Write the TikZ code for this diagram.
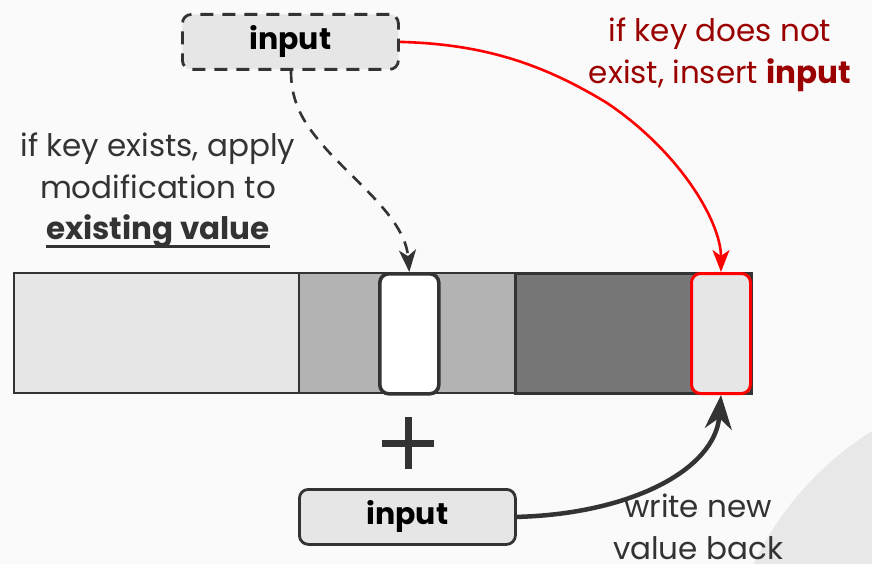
\documentclass[tikz,border=0pt]{standalone}
\usepackage{fontspec}
\setmainfont{Poppins}
\usetikzlibrary{arrows.meta,calc}
\definecolor{ink}{HTML}{333333}
\definecolor{pale}{HTML}{E6E6E6}
\definecolor{mid}{HTML}{B3B3B3}
\definecolor{deep}{HTML}{777777}
\definecolor{bgc}{HTML}{FAFAFA}
\definecolor{blob}{HTML}{E8E8E8}
\definecolor{darkred}{HTML}{9B0000}
% bold text with a heavy underline
\newlength\ulwidth
\newcommand\heavyul[1]{\settowidth\ulwidth{#1}\rlap{#1}\rule[-8pt]{\ulwidth}{2.8pt}}
\tikzset{
  seg/.style={draw=ink, line width=1.6pt, minimum height=120pt, inner sep=0pt, anchor=north west},
  cellbox/.style={rounded corners=9pt, minimum width=59pt, minimum height=120pt, inner sep=0pt, anchor=north west},
  inbox/.style={draw=ink, line width=2.8pt, fill=pale, rounded corners=9pt, minimum width=216pt, minimum height=55pt, inner sep=0pt, anchor=north west, font=\fontsize{30}{33}\selectfont\bfseries, text=black},
  lbl/.style={align=center, font=\fontsize{31}{41.5}\selectfont, text=ink},
  thintip/.style={-{Stealth[length=22pt,width=17pt,inset=6pt]}},
  thicktip/.style={-{Stealth[length=34pt,width=27pt,inset=11pt]}}
}
\begin{document}
\begin{tikzpicture}[x=1pt,y=-1pt]
\useasboundingbox (0,0) rectangle (872,564);
\fill[bgc] (0,0) rectangle (872,564);
\begin{scope}
  \clip (0,0) rectangle (872,564);
  \fill[blob] (1040,700) circle[radius=317pt];
\end{scope}

% storage bar
\node[seg, fill=pale, minimum width=285pt] (s1) at (13,272) {};
\node[seg, fill=mid, minimum width=216pt] (s2) at (298,272) {};
\node[seg, fill=deep, line width=3pt, minimum width=236pt] (s3) at (514,272) {};

% cells
\node[cellbox, draw=ink, line width=3.6pt, fill=white] (oldcell) at (378,272) {};
\node[cellbox, draw=red, line width=3pt, fill=pale] (newcell) at (690,272) {};

% input boxes
\node[inbox, dashed, dash pattern=on 13pt off 9pt] (topin) at (181,13) {input};
\node[inbox] (botin) at (298,488) {input};

% plus sign
\node[minimum size=51pt, inner sep=0pt] (plus) at (408,443) {};
\draw[ink, line width=7pt] (plus.west) -- (plus.east) (plus.north) -- (plus.south);

% labels
\node[lbl] (exists) at (158,190.5) {if key exists, apply\\modification to\\\heavyul{\textbf{existing value}}};
\node[lbl, text=darkred] (missing) at (720,55) {if key does not\\exist, insert \textbf{input}};
\node[lbl] (writeback) at (698,527) {write new\\value back};

% connectors
\coordinate (redmid) at (607,103);
\coordinate (dashmid) at (327,150);
\draw[thintip, red, line width=2.6pt] (topin.east) .. controls (480,44) and (540,62) .. (redmid)
  .. controls (680,152) and (721,222) .. (newcell.north);
\draw[thintip, ink, line width=2.6pt, dashed, dash pattern=on 12pt off 9pt] (topin.south -| 291,0)
  .. controls (291,105) and (305,125) .. (dashmid)
  .. controls (360,186) and (405,220) .. (oldcell.north);
\draw[thicktip, ink, line width=4.5pt] (botin.east) .. controls (630,514) and (715,470) .. (newcell.south);
\end{tikzpicture}
\end{document}
